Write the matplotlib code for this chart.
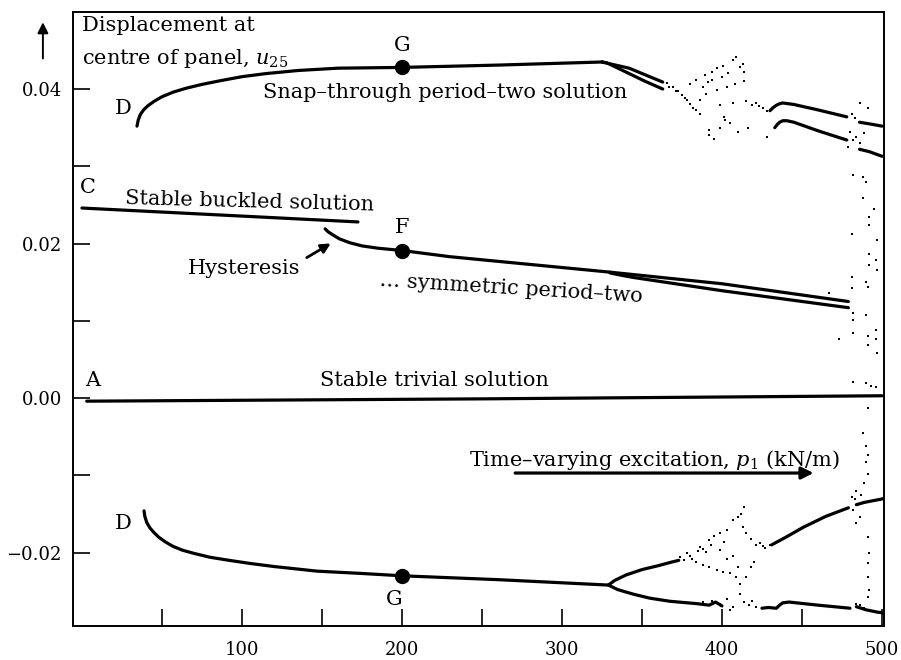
import matplotlib
matplotlib.use('Agg')
import matplotlib.pyplot as plt

plt.rcParams['font.family'] = ['DejaVu Serif']
plt.rcParams['mathtext.fontset'] = 'dejavuserif'

# --- dados ---
# ramo superior (snap-through, periodo dois)
snap_x = [34.4, 35.2, 36.5, 38.5, 41, 45, 50, 57, 65, 75, 87, 100, 115, 135, 160, 200, 260, 325]
snap_y = [0.0352, 0.0360, 0.0367, 0.0373, 0.0378, 0.0384, 0.0390, 0.0396, 0.0401, 0.0406, 0.0411,
          0.0416, 0.0420, 0.0424, 0.0427, 0.0428, 0.0431, 0.0435]
snap_a_x = [325, 342, 363]
snap_a_y = [0.0435, 0.0427, 0.0409]
snap_b_x = [325, 328, 331, 336, 342, 352, 363]
snap_b_y = [0.0435, 0.0434, 0.0431, 0.0426, 0.0420, 0.0410, 0.0400]
snap_c_x = [430, 432, 434, 436, 438, 445, 460, 478]
snap_c_y = [0.0372, 0.0376, 0.0379, 0.0381, 0.0382, 0.0380, 0.0373, 0.0364]
snap_d_x = [433, 434.5, 436, 438, 440.6, 445, 460, 478]
snap_d_y = [0.0350, 0.0354, 0.0357, 0.0359, 0.0359, 0.0357, 0.0346, 0.0334]
snap_e_x = [486, 492, 500]
snap_e_y = [0.0357, 0.0355, 0.0352]
snap_f_x = [486, 492, 500]
snap_f_y = [0.0322, 0.0319, 0.0313]

# solucao flambada estavel
buckled_x = [0, 172.5]
buckled_y = [0.0246, 0.0228]

# ramo simetrico (histerese ate o periodo dois)
sym_x = [152, 154, 157, 161, 167.5, 175, 185, 200, 230, 270, 330]
sym_y = [0.0219, 0.0215, 0.0211, 0.0206, 0.0201, 0.0197, 0.0194, 0.0191, 0.0183, 0.0175, 0.0163]
sym_a_x = [330, 400, 479]
sym_a_y = [0.0163, 0.0148, 0.0125]
sym_b_x = [330, 337, 345, 400, 479]
sym_b_y = [0.0162, 0.0159, 0.0156, 0.0139, 0.0117]

# solucao trivial
triv_x = [3, 250, 500]
triv_y = [-0.0004, -0.0001, 0.0003]

# ramo inferior
low_x = [38.8, 39.3, 40.5, 42.5, 45, 48, 52, 57, 63, 70, 80, 92, 105, 120, 147, 175, 200, 260, 329]
low_y = [-0.0146, -0.0153, -0.0161, -0.0168, -0.0174, -0.0180, -0.0186, -0.0192, -0.0197, -0.0201,
         -0.0206, -0.0210, -0.0214, -0.0218, -0.0224, -0.0227, -0.0230, -0.0235, -0.0242]
low_a_x = [329, 333, 340, 350, 360, 369, 373]
low_a_y = [-0.0242, -0.0236, -0.0229, -0.0222, -0.0217, -0.0212, -0.0210]
low_b_x = [329, 335, 345, 355, 367.5, 384, 392, 396, 400]
low_b_y = [-0.0242, -0.0248, -0.0254, -0.0259, -0.0263, -0.0266, -0.0268, -0.0264, -0.0269]
low_c_x = [431, 440, 451, 465, 479]
low_c_y = [-0.0190, -0.0180, -0.0167, -0.0153, -0.0142]
low_d_x = [425, 429, 434, 436, 438, 442, 460, 480]
low_d_y = [-0.0272, -0.0271, -0.0272, -0.0268, -0.0265, -0.0264, -0.0268, -0.0272]
low_e_x = [484, 489, 499, 501]
low_e_y = [-0.0138, -0.0135, -0.0131, -0.0130]
low_f_x = [484, 490, 497, 501]
low_f_y = [-0.0270, -0.0274, -0.0277, -0.0278]

# pontos caoticos
chaos_up_x = [365.4, 369.5, 372.7, 376.9, 380, 384, 386, 380, 384, 389.4, 393.5, 396.6, 400.8, 407,
              409, 413, 414, 414, 408, 403, 396.6, 390, 386, 398.8, 407, 415, 421, 425.8, 428, 392,
              398.8, 405, 392, 416, 428, 401, 388, 391, 367, 371, 375, 378, 382, 394, 400, 404,
              411, 419, 423, 402, 410, 395]
chaos_up_y = [0.0408, 0.0403, 0.0397, 0.0388, 0.0381, 0.0373, 0.0368, 0.0407, 0.0412, 0.0418, 0.0422,
              0.0427, 0.0430, 0.0437, 0.0442, 0.0433, 0.0422, 0.0410, 0.0407, 0.0403, 0.0399, 0.0394,
              0.0386, 0.0379, 0.0382, 0.0384, 0.0382, 0.0375, 0.0372, 0.0347, 0.0349, 0.0356, 0.0341,
              0.0350, 0.0338, 0.0364, 0.0403, 0.0409, 0.0402, 0.0398, 0.0392, 0.0386, 0.0376, 0.0412,
              0.0415, 0.0421, 0.0428, 0.0379, 0.0378, 0.0360, 0.0345, 0.0335]
chaos_low_x = [373.8, 378, 381, 386, 390, 392, 395, 398.8, 403, 407, 410, 414, 413, 415, 418, 421,
               425.8, 430, 398.8, 403, 384, 388, 392, 396.6, 400.8, 405, 409, 411, 415, 418, 420,
               407, 410, 388, 388, 394, 398.8, 403, 407, 411, 414, 417, 421, 419, 405, 376, 380,
               385, 393, 401, 412, 424, 427]
chaos_low_y = [-0.0206, -0.0201, -0.0208, -0.0193, -0.0199, -0.0184, -0.0179, -0.0175, -0.0171,
               -0.0158, -0.0154, -0.0141, -0.0167, -0.0175, -0.0182, -0.0190, -0.0192, -0.0190,
               -0.0197, -0.0208, -0.0212, -0.0216, -0.0218, -0.0223, -0.0225, -0.0227, -0.0231,
               -0.0240, -0.0231, -0.0218, -0.0212, -0.0205, -0.0218, -0.0195, -0.0264, -0.0262,
               -0.0266, -0.0260, -0.0270, -0.0253, -0.0264, -0.0268, -0.0270, -0.0262, -0.0274,
               -0.0210, -0.0204, -0.0198, -0.0190, -0.0186, -0.0150, -0.0188, -0.0194]
chaos_end_x = [481, 483, 486, 480, 484, 486, 482, 479, 491, 489, 488, 490, 482, 488, 495, 492, 492,
               481, 497, 492, 496, 492, 497, 481, 490, 491, 467, 481, 482, 482, 490, 482, 496, 491,
               496, 491, 473, 497, 482, 490, 493, 496, 491,
               481, 483, 485, 487, 490, 484, 482, 486, 484, 491, 492, 491, 491, 490, 491, 489, 490,
               488, 491, 492, 491, 486, 489, 484]
chaos_end_y = [0.0368, 0.0362, 0.0382, 0.0345, 0.0338, 0.0330, 0.0334, 0.0325, 0.0375, 0.0343,
               0.0286, 0.0280, 0.0289, 0.0259, 0.0245, 0.0235, 0.0224, 0.0213, 0.0205, 0.0187,
               0.0179, 0.0172, 0.0166, 0.0157, 0.0150, 0.0144, 0.0136, 0.0142, 0.0110, 0.0101,
               0.0107, 0.0084, 0.0088, 0.0080, 0.0077, 0.0069, 0.0076, 0.0058, 0.0021, 0.0020,
               0.0015, 0.0014, -0.0013,
               -0.0128, -0.0131, -0.0137, -0.0126, -0.0134, -0.0120, -0.0145, -0.0154, -0.0162,
               -0.0180, -0.0200, -0.0214, -0.0074, -0.0083, -0.0098, -0.0110, -0.0062, -0.0045,
               -0.0232, -0.0248, -0.0258, -0.0268, -0.0272, -0.0266]

# pontos marcados
mark_x = [200, 200, 200]
mark_y = [0.0428, 0.0191, -0.0230]

fig = plt.figure(figsize=(9.01, 6.6), dpi=100)
ax = fig.add_axes([0.081, 0.0515, 0.900, 0.9303])

lw = 2.3
for xs, ys in [(snap_x, snap_y), (snap_a_x, snap_a_y), (snap_b_x, snap_b_y), (snap_c_x, snap_c_y),
               (snap_d_x, snap_d_y), (snap_e_x, snap_e_y), (snap_f_x, snap_f_y),
               (buckled_x, buckled_y), (sym_x, sym_y), (sym_a_x, sym_a_y), (sym_b_x, sym_b_y),
               (triv_x, triv_y), (low_x, low_y), (low_a_x, low_a_y), (low_b_x, low_b_y),
               (low_c_x, low_c_y), (low_d_x, low_d_y), (low_e_x, low_e_y), (low_f_x, low_f_y)]:
    ax.plot(xs, ys, color='black', lw=lw, solid_capstyle='round', solid_joinstyle='round')

ax.plot(chaos_up_x + chaos_low_x + chaos_end_x, chaos_up_y + chaos_low_y + chaos_end_y,
        ls='none', marker='s', ms=1.8, color='black', mew=0)
ax.plot(mark_x, mark_y, ls='none', marker='o', ms=10, color='black')

ax.set_xlim(-5.6, 501.2)
ax.set_ylim(-0.0295, 0.04997)
ax.set_xticks([100, 200, 300, 400, 500])
ax.set_xticks([50, 150, 250, 350, 450], minor=True)
ax.set_yticks([-0.02, 0.0, 0.02, 0.04])
ax.set_yticklabels(['\u22120.02', '0.00', '0.02', '0.04'])
ax.set_yticks([-0.01, 0.01, 0.03], minor=True)
ax.tick_params(which='both', direction='in', length=12, width=1.2, top=False, right=False)
ax.tick_params(axis='y', which='both', pad=8, labelsize=13)
ax.tick_params(axis='x', which='both', pad=11, labelsize=13)
for s in ax.spines.values():
    s.set_linewidth(1.4)

fs = 15
ax.text(0, 0.0495, 'Displacement at', fontsize=fs, ha='left', va='top')
ax.text(0, 0.0455, 'centre of panel, $u_{25}$', fontsize=fs, ha='left', va='top')
ax.annotate('', xy=(-24.4, 0.0490), xytext=(-24.4, 0.0436), annotation_clip=False,
            arrowprops=dict(arrowstyle='-|>', color='black', lw=1.4, mutation_scale=16))
ax.text(200, 0.0457, 'G', fontsize=fs, ha='center', va='center')
ax.text(25.6, 0.0375, 'D', fontsize=fs, ha='center', va='center')
ax.text(113, 0.0396, 'Snap\u2013through period\u2013two solution', fontsize=fs, ha='left', va='center')
ax.text(3.75, 0.0273, 'C', fontsize=fs, ha='center', va='center')
ax.text(27, 0.0258, 'Stable buckled solution', fontsize=fs, ha='left', va='center',
        rotation=-1.5, rotation_mode='anchor')
ax.text(200, 0.0221, 'F', fontsize=fs, ha='center', va='center')
ax.text(66, 0.0168, 'Hysteresis', fontsize=fs, ha='left', va='center')
ax.annotate('', xy=(157, 0.0202), xytext=(139, 0.0180),
            arrowprops=dict(arrowstyle='-|>', color='black', lw=2, mutation_scale=14))
ax.text(268, 0.0142, '\u2026 symmetric period\u2013two', fontsize=fs, ha='center', va='center',
        rotation=-3.5, rotation_mode='anchor')
ax.text(7, 0.0023, 'A', fontsize=fs, ha='center', va='center')
ax.text(220, 0.0023, 'Stable trivial solution', fontsize=fs, ha='center', va='center')
ax.text(242, -0.0080, 'Time\u2013varying excitation, $p_1$ (kN/m)', fontsize=fs, ha='left', va='center')
ax.annotate('', xy=(459, -0.0097), xytext=(269, -0.0097),
            arrowprops=dict(arrowstyle='-|>', color='black', lw=2.3, mutation_scale=18))
ax.text(25.6, -0.0162, 'D', fontsize=fs, ha='center', va='center')
ax.text(195, -0.0261, 'G', fontsize=fs, ha='center', va='center')

fig.savefig('out.png', dpi=100)
